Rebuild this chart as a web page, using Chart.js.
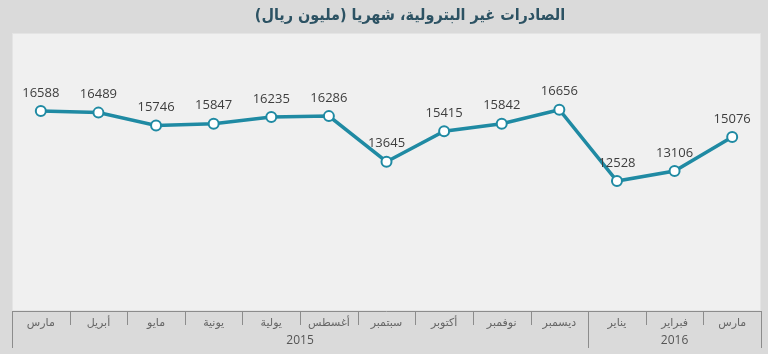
<!DOCTYPE html>
<html>
<head>
<meta charset="utf-8">
<script src="https://cdn.jsdelivr.net/npm/chart.js@4"></script>
<style>
  html, body { margin: 0; padding: 0; background: #dadada; }
  #wrap { width: 768px; height: 354px; }
</style>
</head>
<body>
<div id="wrap"><canvas id="exports" width="768" height="354"></canvas></div>
<script>
const chartTitle = "الصادرات غير البترولية، شهريا (مليون ريال)";
const months = ["مارس", "أبريل", "مايو", "يونية", "يولية", "أغسطس", "سبتمبر", "أكتوبر", "نوفمبر", "ديسمبر", "يناير", "فبراير", "مارس"];
const years = ["2015", "2016"];
const yearSizes = [10, 3];
const values = [16588, 16489, 15746, 15847, 16235, 16286, 13645, 15415, 15842, 16656, 12528, 13106, 15076];

const lineColor = "#1f8aa3";

// plot panel + title
const panelPlugin = {
  id: "panel",
  beforeDraw(chart) {
    const c = chart.ctx;
    const a = chart.chartArea;
    c.save();
    c.fillStyle = "#dadada";
    c.fillRect(0, 0, chart.width, chart.height);
    c.fillStyle = "#f0f0f0";
    c.fillRect(a.left, a.top, a.right - a.left, a.bottom - a.top);
    c.strokeStyle = "#e4e4e4";
    c.lineWidth = 1;
    c.strokeRect(a.left + 0.5, a.top + 0.5, a.right - a.left - 1, a.bottom - a.top - 1);
    c.fillStyle = "#2c5263";
    c.font = "bold 16px 'DejaVu Sans Condensed', 'DejaVu Sans'";
    c.textAlign = "center";
    c.textBaseline = "middle";
    c.fillText(chartTitle, 410, 16);
    c.restore();
  }
};

// value labels above the points
const labelPlugin = {
  id: "valueLabels",
  afterDatasetsDraw(chart) {
    const c = chart.ctx;
    const meta = chart.getDatasetMeta(0);
    c.save();
    c.fillStyle = "#3d3d3d";
    c.font = "13px 'Open Sans'";
    c.textAlign = "center";
    c.textBaseline = "middle";
    meta.data.forEach((pt, i) => {
      c.fillText(values[i], pt.x, pt.y - 18);
    });
    c.restore();
  }
};

// month separators and year row
const groupAxisPlugin = {
  id: "groupAxis",
  afterDraw(chart) {
    const c = chart.ctx;
    const x = chart.scales.x;
    const a = chart.chartArea;
    const half = (x.getPixelForValue(1) - x.getPixelForValue(0)) / 2;
    c.save();
    c.strokeStyle = "#8c8c8c";
    c.lineWidth = 1;
    c.beginPath();
    c.moveTo(a.left, a.bottom + 0.5);
    c.lineTo(a.right, a.bottom + 0.5);
    const bounds = [0];
    let acc = 0;
    yearSizes.forEach(n => { acc += n; bounds.push(acc); });
    for (let i = 0; i <= months.length; i++) {
      const px = Math.round(x.getPixelForValue(i) - half) + 0.5;
      const long = bounds.includes(i);
      c.moveTo(px, a.bottom);
      c.lineTo(px, a.bottom + (long ? 37 : 14));
    }
    c.stroke();
    c.fillStyle = "#555";
    c.font = "12px 'Open Sans'";
    c.textAlign = "center";
    c.textBaseline = "middle";
    years.forEach((yr, k) => {
      const l = x.getPixelForValue(bounds[k]) - half;
      const r = x.getPixelForValue(bounds[k + 1]) - half;
      c.fillText(yr, (l + r) / 2, a.bottom + 30);
    });
    c.restore();
  }
};

new Chart(document.getElementById("exports"), {
  type: "line",
  data: {
    labels: months,
    datasets: [{
      data: values,
      borderColor: lineColor,
      borderWidth: 3.5,
      pointRadius: 5,
      pointBorderWidth: 2,
      pointBackgroundColor: "#ffffff",
      pointBorderColor: lineColor,
      tension: 0
    }]
  },
  options: {
    responsive: false,
    animation: false,
    layout: { padding: { top: 33, left: 12, right: 6, bottom: 0 } },
    plugins: {
      legend: { display: false },
      title: { display: false },
      tooltip: { enabled: false }
    },
    scales: {
      x: {
        offset: true,
        grid: { display: false },
        border: { display: false },
        ticks: {
          color: "#666",
          font: { family: "DejaVu Sans", size: 11 },
          padding: -2,
          maxRotation: 0,
          autoSkip: false
        },
        afterFit(scale) { scale.height = 43; }
      },
      y: {
        display: false,
        min: 5000,
        max: 21100
      }
    }
  },
  plugins: [panelPlugin, labelPlugin, groupAxisPlugin]
});
</script>
</body>
</html>
